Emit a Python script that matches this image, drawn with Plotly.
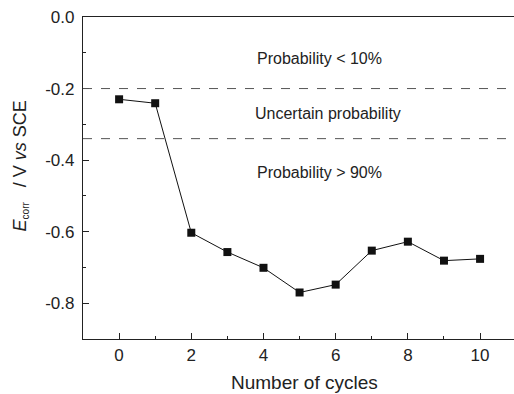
import plotly.graph_objects as go

cycles = [0, 1, 2, 3, 4, 5, 6, 7, 8, 9, 10]
ecorr = [-0.230, -0.241, -0.603, -0.657, -0.701, -0.770, -0.748, -0.653, -0.628, -0.681, -0.676]

thresholds = [-0.2, -0.34]
zone_labels = ["Probability < 10%", "Uncertain probability", "Probability > 90%"]
zone_y = [-0.117, -0.269, -0.435]
zone_x = [5.55, 5.8, 5.55]

ytick_vals = [0.0, -0.2, -0.4, -0.6, -0.8]
ytick_text = ["0.0", "-0.2", "-0.4", "-0.6", "-0.8"]
xtick_vals = [0, 2, 4, 6, 8, 10]

FONT = "Liberation Sans, Arial, sans-serif"

fig = go.Figure()
fig.add_trace(go.Scatter(
    x=cycles, y=ecorr, mode="lines+markers",
    line=dict(color="#111111", width=1),
    marker=dict(symbol="square", size=8, color="#111111"),
    showlegend=False,
))

for t in thresholds:
    fig.add_shape(type="line", xref="paper", x0=0, x1=1, yref="y", y0=t, y1=t,
                  line=dict(color="#555555", width=1, dash="dash"))

for lab, yy, xx in zip(zone_labels, zone_y, zone_x):
    fig.add_annotation(x=xx, y=yy, text=lab, showarrow=False,
                       font=dict(family=FONT, size=16, color="#222222"))

# x-axis title
fig.add_annotation(xref="paper", yref="paper", x=0.515, y=0, yshift=-43,
                   text="Number of cycles", showarrow=False, yanchor="middle",
                   font=dict(family=FONT, size=19, color="#222222"))

# y-axis title
fig.add_annotation(xref="paper", yref="paper", x=0, y=0.536, xshift=-62,
                   text="<i>E</i><sub><span style='font-size:10px'>corr</span></sub>   / V <i>vs</i> SCE",
                   textangle=-90, showarrow=False, xanchor="center", yanchor="middle",
                   font=dict(family=FONT, size=18, color="#222222"))

fig.update_layout(
    width=514, height=394,
    margin=dict(l=83, r=0, t=17, b=55),
    paper_bgcolor="white", plot_bgcolor="white",
    font=dict(family=FONT, color="#222222"),
)
fig.update_xaxes(
    range=[-1, 10.94], tickvals=xtick_vals, ticks="inside", ticklen=6, tickwidth=1,
    tickcolor="#222222", showline=True, linecolor="#222222", linewidth=1.2,
    mirror=True, showgrid=False, zeroline=False,
    tickfont=dict(size=17),
    minor=dict(ticks="inside", ticklen=3, dtick=1, tick0=0, tickcolor="#222222", showgrid=False),
)
fig.update_yaxes(
    range=[-0.9, 0], tickvals=ytick_vals, ticktext=ytick_text, ticks="inside", ticklen=6,
    tickwidth=1, tickcolor="#222222", showline=True, linecolor="#222222", linewidth=1.2,
    mirror=False, showgrid=False, zeroline=False,
    tickfont=dict(size=17), ticklabelstandoff=4,
    minor=dict(ticks="inside", ticklen=3, dtick=0.1, tick0=0, tickcolor="#222222", showgrid=False),
)

fig.write_html("out.html")
